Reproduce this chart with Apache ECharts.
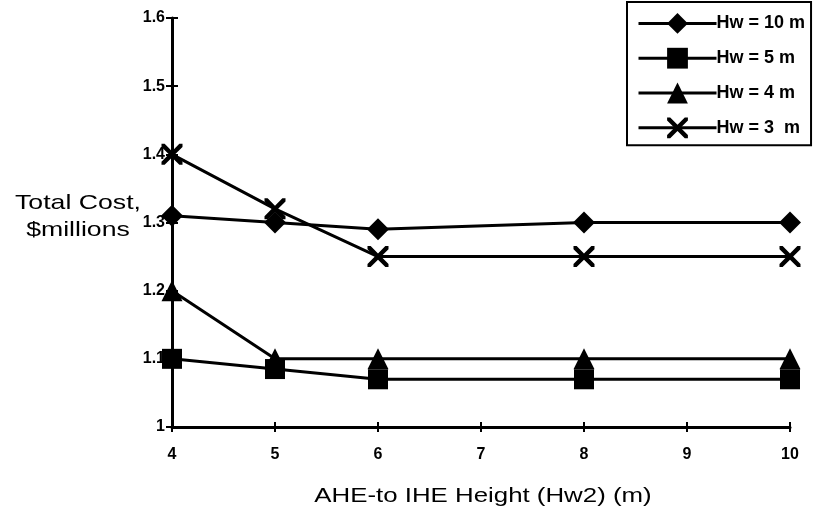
<!DOCTYPE html>
<html>
<head>
<meta charset="utf-8">
<script src="https://cdn.jsdelivr.net/npm/echarts@6/dist/echarts.min.js"></script>
<style>
  html, body { margin: 0; padding: 0; background: #fff; }
  #chart { width: 823px; height: 514px; }
</style>
</head>
<body>
<div id="chart"></div>
<script>
// AHE-to IHE height (m) at which costs were evaluated
const heights = [4, 5, 6, 8, 10];

// Total cost ($ millions) for each Hw case
const costHw10 = [1.31, 1.30, 1.29, 1.30, 1.30];
const costHw5 = [1.10, 1.085, 1.07, 1.07, 1.07];
const costHw4 = [1.20, 1.10, 1.10, 1.10, 1.10];
const costHw3 = [1.40, 1.32, 1.25, 1.25, 1.25];

const seriesNames = ['Hw = 10 m', 'Hw = 5 m', 'Hw = 4 m', 'Hw = 3  m'];
const xTitle = 'AHE-to IHE Height (Hw2) (m)';
const yTitle = 'Total Cost,\n$millions';

const font = '"Liberation Sans", Arial, sans-serif';
const crossPath = 'path://M0,0 L3,0 L10,7 L17,0 L20,0 L20,3 L13,10 L20,17 L20,20 L17,20 L10,13 L3,20 L0,20 L0,17 L7,10 L0,3 Z';

function pairs(values) {
  return heights.map((h, i) => [h, values[i]]);
}

function lineSeries(name, values, symbol, size) {
  return {
    name: name,
    type: 'line',
    data: pairs(values),
    symbol: symbol,
    symbolSize: size,
    lineStyle: { color: '#000', width: 3 },
    itemStyle: { color: '#000', borderWidth: 0 },
    emphasis: { disabled: true },
    animation: false,
    z: 3
  };
}

const chart = echarts.init(document.getElementById('chart'), null, { renderer: 'canvas' });

const axisLine = { show: true, lineStyle: { color: '#000', width: 3 } };
const tickLabel = { color: '#000', fontFamily: font, fontWeight: 'bold', fontSize: 16 };

chart.setOption({
  backgroundColor: '#fff',
  animation: false,
  grid: { left: 172, right: 33, top: 18, bottom: 87, containLabel: false },
  xAxis: [
    {
      type: 'value', min: 4, max: 10, interval: 1,
      axisLine: axisLine,
      axisTick: { show: true, length: 5, lineStyle: { color: '#000', width: 2 } },
      axisLabel: Object.assign({ margin: 20 }, tickLabel),
      splitLine: { show: false }
    },
    {
      type: 'value', min: 4, max: 10, interval: 1, position: 'bottom',
      axisLine: { show: false },
      axisTick: { show: true, inside: true, length: 5, lineStyle: { color: '#000', width: 2 } },
      axisLabel: { show: false },
      splitLine: { show: false }
    }
  ],
  yAxis: [
    {
      type: 'value', min: 1, max: 1.6, interval: 0.1,
      axisLine: axisLine,
      axisTick: { show: true, length: 6, lineStyle: { color: '#000', width: 2 } },
      axisLabel: Object.assign({
        margin: 7,
        formatter: v => (Math.round(v * 10) / 10).toString()
      }, tickLabel),
      splitLine: { show: false }
    },
    {
      type: 'value', min: 1, max: 1.6, interval: 0.1, position: 'left',
      axisLine: { show: false },
      axisTick: { show: true, inside: true, length: 6, lineStyle: { color: '#000', width: 2 } },
      axisLabel: { show: false },
      splitLine: { show: false }
    }
  ],
  graphic: [
    {
      // axis titles are set in a wide face, so stretch them horizontally
      type: 'text', x: 78, y: 217, scaleX: 1.27,
      style: {
        text: yTitle, fill: '#000', font: '21px ' + font,
        align: 'center', verticalAlign: 'middle', lineHeight: 27
      }
    },
    {
      type: 'text', x: 483, y: 496, scaleX: 1.23,
      style: {
        text: xTitle, fill: '#000', font: '21px ' + font,
        align: 'center', verticalAlign: 'middle'
      }
    }
  ],
  legend: {
    show: true,
    orient: 'vertical',
    left: 627, top: 2,
    padding: [11, 6, 7, 10],
    itemGap: 14,
    itemWidth: 78,
    itemHeight: 26,
    backgroundColor: '#fff',
    borderColor: '#000',
    borderWidth: 2,
    borderRadius: 0,
    lineStyle: { width: 3 },
    textStyle: { color: '#000', fontFamily: font, fontWeight: 'bold', fontSize: 18, padding: [0, 0, 0, -5] },
    data: seriesNames
  },
  series: [
    lineSeries(seriesNames[0], costHw10, 'diamond', 22),
    lineSeries(seriesNames[1], costHw5, 'rect', 20),
    lineSeries(seriesNames[2], costHw4, 'triangle', 21),
    lineSeries(seriesNames[3], costHw3, crossPath, 21)
  ]
});
</script>
</body>
</html>
